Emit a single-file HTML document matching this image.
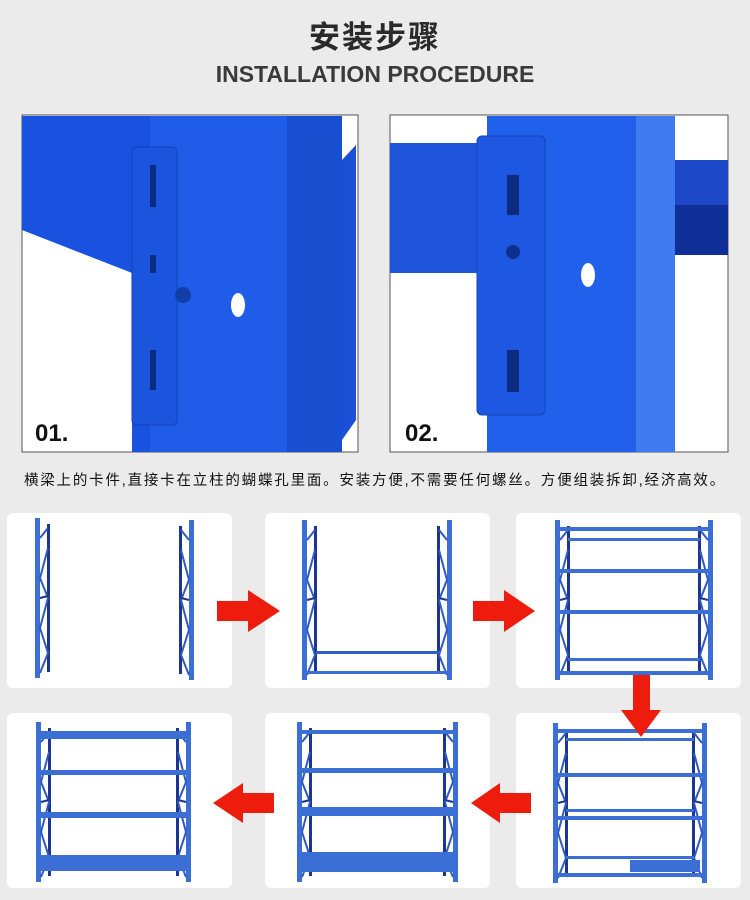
<!DOCTYPE html>
<html><head><meta charset="utf-8"><style>
html,body{margin:0;padding:0}
body{width:750px;height:900px;background:#ebebeb;position:relative;overflow:hidden;font-family:"Liberation Sans","Noto Sans CJK SC",sans-serif}
.t1{position:absolute;top:12px;left:0;width:750px;text-align:center;font-size:31px;font-weight:bold;color:#2a2a2a;letter-spacing:2px}
.t2{position:absolute;top:61px;left:0;width:750px;text-align:center;font-size:23px;font-weight:bold;color:#3a3a3a}
.cap{position:absolute;top:469px;left:0;width:750px;text-align:center;font-size:14.5px;letter-spacing:1.8px;color:#111;white-space:nowrap}
svg{position:absolute;left:0;top:0}
</style></head><body>
<div class="t1">安装步骤</div>
<div class="t2">INSTALLATION PROCEDURE</div>
<div class="cap">横梁上的卡件,直接卡在立柱的蝴蝶孔里面。安装方便,不需要任何螺丝。方便组装拆卸,经济高效。</div>
<svg width="750" height="900" viewBox="0 0 750 900">
<defs>
<g id="post">
<rect x="0" y="0" width="5" height="160" fill="#3b6fd6"/>
<rect x="12" y="6" width="3" height="148" fill="#1c3590"/>
<path d="M5 20 L13 10 M13 30 L5 60 L13 80 L5 110 L13 135 L5 155" stroke="#2f59c0" stroke-width="2" fill="none"/>
<path d="M5 80 L13 78" stroke="#1c3590" stroke-width="2"/>
</g>
</defs>
<rect x="22" y="115" width="336" height="337" fill="#fff" stroke="#555" stroke-width="1"/>
<path d="M22 116 L150 116 L150 452 L132 452 L132 273 L22 230 Z" fill="#1a52e0"/>
<rect x="150" y="116" width="137" height="336" fill="#1f5ce8"/>
<rect x="287" y="116" width="55" height="336" fill="#184fd0"/>
<path d="M342 160 L356 145 L356 420 L342 440 Z" fill="#1a50d8"/>
<rect x="132" y="147" width="45" height="278" rx="5" fill="#1b55de" stroke="#1243b8"/>
<rect x="150" y="165" width="6" height="42" fill="#0b2a80"/><rect x="150" y="255" width="6" height="18" fill="#0b2a80"/><rect x="150" y="350" width="6" height="40" fill="#0b2a80"/>
<ellipse cx="238" cy="305" rx="7" ry="12" fill="#fff"/><circle cx="183" cy="295" r="8" fill="#123ea8"/>
<text x="35" y="441" font-family="Liberation Sans" font-weight="bold" font-size="24" fill="#111">01.</text>
<rect x="390" y="115" width="338" height="337" fill="#fff" stroke="#555" stroke-width="1"/>
<rect x="390" y="143" width="97" height="130" fill="#1f55dc"/>
<rect x="675" y="160" width="53" height="60" fill="#1c48c8"/><rect x="675" y="205" width="53" height="50" fill="#0f2e98"/>
<rect x="487" y="116" width="149" height="336" fill="#2160ea"/>
<rect x="636" y="116" width="39" height="336" fill="#3f7af0"/>
<rect x="477" y="136" width="68" height="279" rx="5" fill="#1e58e2" stroke="#1243b8"/>
<rect x="507" y="175" width="12" height="40" fill="#0b2a80"/><circle cx="513" cy="252" r="7" fill="#0d2f90"/><rect x="507" y="350" width="12" height="42" fill="#0b2a80"/>
<ellipse cx="588" cy="275" rx="7" ry="12" fill="#fff"/>
<text x="405" y="441" font-family="Liberation Sans" font-weight="bold" font-size="24" fill="#111">02.</text>
<g fill="#fff">
<rect x="7" y="513" width="225" height="175" rx="6"/>
<rect x="265" y="513" width="225" height="175" rx="6"/>
<rect x="516" y="513" width="225" height="175" rx="6"/>
<rect x="7" y="713" width="225" height="175" rx="6"/>
<rect x="265" y="713" width="225" height="175" rx="6"/>
<rect x="516" y="713" width="225" height="175" rx="6"/>
</g>
<use href="#post" transform="translate(35,518)"/>
<use href="#post" transform="translate(194,520) scale(-1,1)"/>
<use href="#post" transform="translate(302,520)"/>
<use href="#post" transform="translate(452,520) scale(-1,1)"/>
<rect x="316" y="651" width="124" height="3" fill="#2e5fd0"/><rect x="305" y="671" width="145" height="3" fill="#3b6fd6"/>
<use href="#post" transform="translate(555,520)"/>
<use href="#post" transform="translate(713,520) scale(-1,1)"/>
<g fill="#3b6fd6"><rect x="558" y="527" width="152" height="4"/><rect x="568" y="538" width="132" height="3"/><rect x="558" y="569" width="152" height="4"/><rect x="558" y="610" width="152" height="4"/><rect x="568" y="658" width="132" height="3"/><rect x="558" y="671" width="152" height="4"/></g>
<use href="#post" transform="translate(36,722)"/>
<use href="#post" transform="translate(191,722) scale(-1,1)"/>
<g fill="#3b6fd6"><rect x="39" y="731" width="150" height="8"/><rect x="39" y="770" width="150" height="5"/><rect x="39" y="812" width="150" height="6"/><rect x="39" y="855" width="150" height="16"/></g>
<use href="#post" transform="translate(297,722)"/>
<use href="#post" transform="translate(458,722) scale(-1,1)"/>
<g fill="#3b6fd6"><rect x="300" y="730" width="155" height="4"/><rect x="300" y="768" width="155" height="5"/><rect x="300" y="807" width="155" height="9"/><rect x="300" y="852" width="155" height="20"/></g>
<use href="#post" transform="translate(553,723)"/>
<use href="#post" transform="translate(707,723) scale(-1,1)"/>
<g fill="#3b6fd6"><rect x="556" y="729" width="148" height="4"/><rect x="566" y="738" width="128" height="3"/><rect x="556" y="773" width="148" height="4"/><rect x="566" y="809" width="128" height="3"/><rect x="556" y="816" width="148" height="4"/><rect x="566" y="856" width="128" height="3"/><rect x="556" y="873" width="148" height="4"/><rect x="630" y="860" width="70" height="12"/></g>
<g fill="#ee1c0c">
<path d="M217 601 L248 601 L248 590 L280 611 L248 632 L248 621 L217 621 Z"/>
<path d="M473 601 L504 601 L504 590 L535 611 L504 632 L504 621 L473 621 Z"/>
<path d="M633 675 L650 675 L650 710 L661 710 L641 737 L621 710 L633 710 Z"/>
<path d="M531 793 L500 793 L500 783 L471 803 L500 823 L500 813 L531 813 Z"/>
<path d="M274 793 L243 793 L243 783 L213 803 L243 823 L243 813 L274 813 Z"/>
</g>
</svg>
</body></html>
